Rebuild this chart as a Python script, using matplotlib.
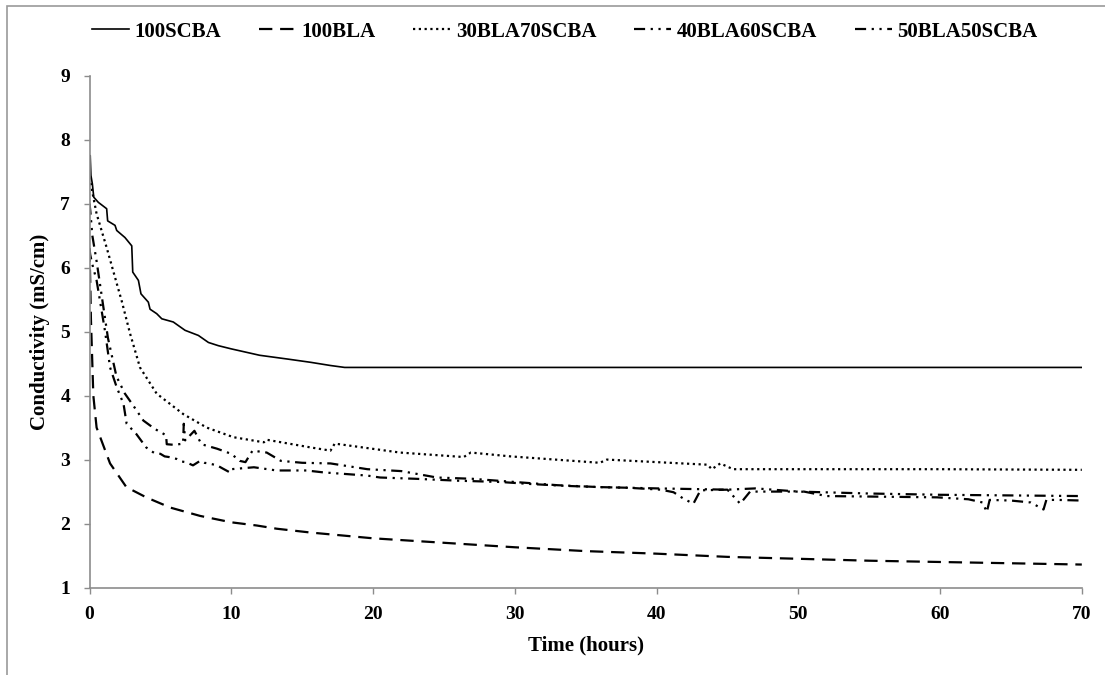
import numpy as np
import matplotlib.pyplot as plt
from matplotlib.patches import Rectangle

plt.rcParams['font.family'] = ['Liberation Serif', 'DejaVu Serif']
plt.rcParams['font.weight'] = 'bold'

# ===== data =====
t_scba = [0, 0.05, 0.1, 0.2, 0.3, 0.62, 1.21, 1.28, 1.8, 1.92, 2.5, 2.98, 3.05, 3.45, 3.63,
          4.15, 4.27, 4.74, 5.1, 5.91, 6.74, 7.68, 8.39, 9.09, 10.0, 12.0, 14.0, 15.6,
          17.0, 18.0, 30.0, 50.0, 70.0]
y_scba = [7.4, 7.75, 7.44, 7.31, 7.1, 7.02, 6.92, 6.73, 6.66, 6.58, 6.47, 6.34, 5.93, 5.8, 5.59,
          5.46, 5.35, 5.28, 5.2, 5.15, 5.02, 4.94, 4.83, 4.78, 4.73, 4.63, 4.57, 4.52,
          4.47, 4.44, 4.44, 4.44, 4.44]

t_bla = [0, 0.05, 0.1, 0.27, 0.5, 1.45, 2.6, 4.0, 5.7, 7.8, 10.0, 11.8, 13.2, 15.6, 20.0,
         25.0, 30.0, 35.0, 40.0, 45.0, 50.0, 55.0, 60.0, 65.0, 70.0]
y_bla = [6.3, 5.8, 5.2, 4.0, 3.5, 2.94, 2.57, 2.41, 2.25, 2.12, 2.02, 1.97, 1.92, 1.86, 1.77,
         1.70, 1.63, 1.57, 1.53, 1.48, 1.45, 1.42, 1.40, 1.38, 1.36]

t_30 = [0, 0.5, 1.2, 2.0, 2.27, 2.86, 3.56, 4.74, 6.62, 8.27, 10.15, 12.3, 12.5, 15.6, 17.0,
        17.3, 21.9, 26.4, 26.9, 29.7, 36.0, 36.5, 43.6, 43.9, 44.5, 45.4, 50.0, 60.0, 70.0]
y_30 = [7.41, 6.84, 6.32, 5.69, 5.48, 4.97, 4.44, 4.03, 3.71, 3.5, 3.35, 3.27, 3.31, 3.19, 3.14,
        3.25, 3.11, 3.04, 3.11, 3.05, 2.95, 3.0, 2.92, 2.85, 2.94, 2.85, 2.85, 2.85, 2.84]

t_40 = [0, 0.05, 0.2, 0.5, 0.9, 1.3, 1.6, 1.9, 2.5, 3.1, 3.8, 4.6, 5.4, 5.45, 6.0, 6.6, 6.65,
        6.75, 7.4, 7.9, 9.0, 10.0, 10.6, 11.0, 11.5, 12.5, 13.5, 15.0, 17.0, 19.6, 22.0, 24.5,
        27.0, 30.0, 33.0, 36.0, 40.0, 45.0, 47.0, 50.0, 55.0, 60.0, 65.0, 70.0]
y_40 = [7.0, 6.9, 6.5, 6.1, 5.5, 4.9, 4.6, 4.3, 4.03, 3.84, 3.61, 3.48, 3.38, 3.24, 3.23, 3.25,
        3.56, 3.3, 3.45, 3.24, 3.17, 3.09, 2.98, 2.96, 3.14, 3.11, 2.98, 2.95, 2.94, 2.85, 2.82,
        2.72, 2.7, 2.65, 2.6, 2.57, 2.55, 2.53, 2.55, 2.5, 2.47, 2.45, 2.44, 2.43]

t_50 = [0, 0.05, 0.2, 0.5, 0.74, 1.1, 1.45, 1.92, 2.4, 2.62, 3.3, 4.0, 4.3, 4.6, 5.0, 5.3, 5.6,
        6.15, 6.5, 6.8, 7.3, 7.8, 8.1, 8.4, 9.0, 9.4, 9.9, 10.0, 11.6, 13.2, 15.3, 16.5, 19.6,
        20.5, 23.0, 26.0, 29.0, 31.0, 33.5, 36.0, 38.0, 40.3, 41.2, 41.9, 42.6, 43.1, 45.0,
        45.7, 45.9, 46.6, 50.4, 52.0, 56.0, 59.8, 62.0, 63.0, 63.3, 63.5, 65.0, 66.4, 67.3,
        67.5, 68.3, 70.0]
y_50 = [6.3, 6.2, 6.05, 5.8, 5.48, 5.0, 4.44, 4.13, 3.87, 3.56, 3.4, 3.19, 3.14, 3.1, 3.09, 3.05,
        3.04, 3.01, 2.97, 2.96, 2.91, 2.98, 2.95, 2.94, 2.91, 2.86, 2.8, 2.85, 2.88, 2.83, 2.83,
        2.8, 2.75, 2.72, 2.7, 2.67, 2.65, 2.62, 2.59, 2.57, 2.56, 2.53, 2.49, 2.39, 2.31, 2.52,
        2.53, 2.36, 2.31, 2.5, 2.5, 2.43, 2.42, 2.41, 2.38, 2.33, 2.18, 2.37, 2.36, 2.33, 2.22,
        2.37, 2.37, 2.36]

labels = ['100SCBA', '100BLA', '30BLA70SCBA', '40BLA60SCBA', '50BLA50SCBA']
x_ticks = [0, 10, 20, 30, 40, 50, 60, 70]
y_ticks = [1, 2, 3, 4, 5, 6, 7, 8, 9]


def main():
    fig = plt.figure(figsize=(11.05, 6.75), dpi=100)
    ax = fig.add_axes([0.0810, 0.1295, 0.898, 0.7585])

    ax.plot(t_scba, y_scba, color='black', lw=1.2, label=labels[0])
    ax.plot(t_bla, y_bla, color='black', lw=1.6, dashes=(6, 3.5), label=labels[1])
    ax.plot(t_30, y_30, color='black', lw=1.6, dashes=(1, 1.6), label=labels[2])
    ax.plot(t_40, y_40, color='black', lw=1.6, dashes=(5, 2.5, 1, 2.5, 1, 2.5), label=labels[3])
    ax.plot(t_50, y_50, color='black', lw=1.6, dashes=(5, 2.5, 1, 2.5, 1, 2.5), label=labels[4])

    ax.set_xlim(0, 70)
    ax.set_ylim(1, 9)
    ax.set_xticks(x_ticks)
    ax.set_yticks(y_ticks)
    for s in ['top', 'right']:
        ax.spines[s].set_visible(False)
    for s in ['left', 'bottom']:
        ax.spines[s].set_color('#8c8c8c')
        ax.spines[s].set_linewidth(1.2)
    ax.tick_params(direction='out', length=4, width=1, color='#8c8c8c', labelsize=14)
    ax.tick_params(axis='y', pad=10)
    ax.tick_params(axis='x', pad=9)

    ax.set_xlabel('Time (hours)', fontsize=15, fontweight='bold', labelpad=9)
    ax.set_ylabel('Conductivity (mS/cm)', fontsize=15, fontweight='bold', labelpad=7)

    ax.legend(loc='center', bbox_to_anchor=(0.511, 0.953), bbox_transform=fig.transFigure,
              ncol=5, frameon=False, handlelength=1.8, handletextpad=0.25,
              columnspacing=1.8, prop={'weight': 'bold', 'size': 15})

    # chart frame (partly outside the image)
    fig.add_artist(Rectangle((7 / 1105, -0.1), 1.2, 1.1 - 5.5 / 675, transform=fig.transFigure,
                             fill=False, edgecolor='#9a9a9a', lw=1.2, clip_on=False))

    fig.savefig('out.png', dpi=100)


if __name__ == "__main__":
    main()
